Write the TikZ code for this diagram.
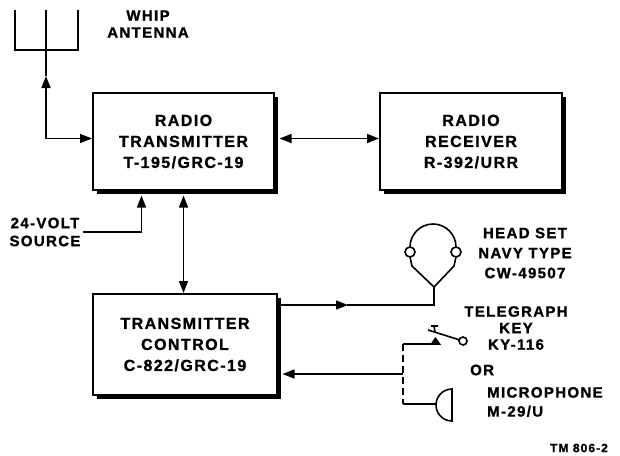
\documentclass[tikz,border=0pt]{standalone}
\usepackage{fontspec}
\setmainfont{Liberation Sans}[LetterSpace=9, BoldFeatures={FakeBold=1.2}]
\usetikzlibrary{arrows.meta,positioning,shadows}

\begin{document}
\begin{tikzpicture}
[
x=1pt, y=-1pt,
unit/.style={rectangle, draw=black, line width=2pt, fill=white, minimum width=181pt, minimum height=97pt, align=center, font=\bfseries\fontsize{16}{21}\selectfont, drop shadow={shadow xshift=4pt, shadow yshift=-4pt, fill=black, opacity=1}},
txt/.style={inner sep=0pt, align=center, font=\bfseries\fontsize{15}{20}\selectfont},
wire/.style={line width=1.6pt},
tip/.style={-{Triangle[length=12pt,width=9pt]}},
tips/.style={{Triangle[length=12pt,width=9pt]}-{Triangle[length=12pt,width=9pt]}},
]
\useasboundingbox (0,0) rectangle (620,455);

%Nodes
\node[unit]                     (xmtr)  at (183.5,141.5)    {RADIO\\TRANSMITTER\\T-195/GRC-19};
\node[unit, minimum width=182pt] (rcvr) [right=104pt of xmtr] {RADIO\\RECEIVER\\R-392/URR};
\node[unit, minimum width=184pt, minimum height=101pt] (ctrl) at (185,344.5) {TRANSMITTER\\CONTROL\\C-822/GRC-19};

\node[txt, font=\bfseries\fontsize{15}{17}\selectfont] (whip) at (148,24)  {WHIP\\ANTENNA};
\node[txt, font=\bfseries\fontsize{15}{18}\selectfont] (volt) at (45,232)  {24-VOLT\\SOURCE};
\node[txt]                      (headset) at (525,253)  {HEAD SET\\NAVY TYPE\\CW-49507};
\node[txt, font=\bfseries\fontsize{15}{16.5}\selectfont] (key) at (516,328) {TELEGRAPH\\KEY\\KY-116};
\node[txt, anchor=west]         (or)    at (470,370)    {OR};
\node[txt, align=left, anchor=west, font=\bfseries\fontsize{15}{19}\selectfont] (mike) at (487,402) {MICROPHONE\\M-29/U};
\node[txt, font=\bfseries\fontsize{12}{14}\selectfont] (tm) at (579,448) {TM 806-2};

\coordinate (antup)  at (46,76);
\coordinate (hs)     at (434,287);
\coordinate (hsfoot) at (434,305);
\coordinate (keyin)  at (403,344);
\coordinate (mikein) at (403,404);
\coordinate (ctlin)  at (403,374);
\coordinate (ctrledge) at ([xshift=4.5pt]ctrl.east);

%Antenna
\draw[wire] (15,10) -- (15,50) -- (78,50) -- (78,10);
\draw[wire] (46,10) -- (antup);

%Head set
\draw[wire] (hs) -- (412,266) -- (410,257);
\draw[wire] (hs) -- (454,266) -- (456,257);
\draw[wire] (410,252) circle[radius=5];
\draw[wire] (456,252) circle[radius=5];
\draw[wire] (410,247) arc[start angle=180, end angle=360, radius=23];

%Key
\draw[wire] (keyin) -- (437,344);
\fill (430,344.8) -- (441,344.8) -- (435.5,337) -- cycle;
\draw[wire] (428,330) -- (459.2,339.8);
\draw[wire] (463,341) circle[radius=4];
\draw[wire] (435,332) -- (434,326) (431,326) -- (438,326);

%Microphone
\draw[wire] (452,389) arc[start angle=270, end angle=90, radius=16] -- cycle;

%Lines
\draw[wire, tips] (antup) |- ([yshift=3pt]xmtr.west);
\draw[wire, tips] ([xshift=4.5pt,yshift=3pt]xmtr.east) -- ([yshift=3pt]rcvr.west);
\draw[wire, tips] ([yshift=-4.5pt]xmtr.south) -- (xmtr.south |- ctrl.north);
\draw[wire, tip]  ([xshift=2pt]volt.east) -| ([xshift=-42pt,yshift=-4.5pt]xmtr.south);
\draw[wire, tip]  (ctrl.east |- hsfoot) -- (348,305);
\draw[wire]       (347,305) -- (hsfoot) -- (hs);
\draw[wire, dashed, dash pattern=on 7pt off 4pt] (keyin) -- (mikein);
\draw[wire]       (mikein) -- (436.2,404);
\draw[wire, tip]  (ctlin) -- (ctrledge |- ctlin);
\end{tikzpicture}
\end{document}
